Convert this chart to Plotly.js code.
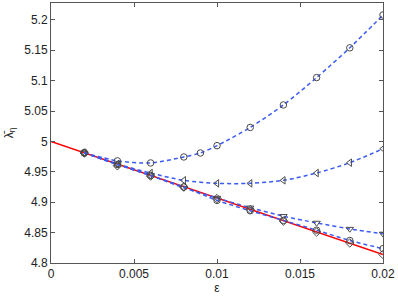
<!DOCTYPE html>
<html>
<head>
<meta charset="utf-8">
<script src="https://cdn.plot.ly/plotly-3.0.1.min.js"></script>
<style>html,body{margin:0;padding:0;background:#fff;}#chart{width:398px;height:298px;}</style>
</head>
<body>
<div id="chart"></div>
<script>
// Data
const epsAll = [0.002, 0.004, 0.006, 0.008, 0.010, 0.012, 0.014, 0.016, 0.018, 0.020];
const epsUpper = [0.002, 0.004, 0.006, 0.008, 0.009, 0.010, 0.012, 0.014, 0.016, 0.018, 0.020];
const lambdaCircleUpper = [4.9815, 4.968, 4.9646, 4.9744, 4.981, 4.993, 5.023, 5.060, 5.105, 5.154, 5.208];
const lambdaTriLeft = [4.9815, 4.963, 4.948, 4.936, 4.931, 4.931, 4.936, 4.948, 4.965, 4.988];
const lambdaTriDown = [4.981, 4.962, 4.944, 4.9236, 4.907, 4.891, 4.877, 4.866, 4.856, 4.848];
const lambdaCircleLower = [4.981, 4.962, 4.944, 4.925, 4.903, 4.886, 4.870, 4.854, 4.837, 4.8236];
const lambdaDiamond = [4.981, 4.960, 4.943, 4.925, 4.906, 4.888, 4.869, 4.851, 4.833, 4.814];
const epsExact = [0, 0.02];
const lambdaExact = [5.0, 4.814];
const xTicks = [0, 0.005, 0.01, 0.015, 0.02];
const xTickText = ['0', '0.005', '0.01', '0.015', '0.02'];
const yTicks = [4.8, 4.85, 4.9, 4.95, 5, 5.05, 5.1, 5.15, 5.2];
const yTickText = ['4.8', '4.85', '4.9', '4.95', '5', '5.05', '5.1', '5.15', '5.2'];

const blue = '#3b5bf6';
const mk = '#4a4a4a';
function dashed(x, y, sym) {
  return {x: x, y: y, type: 'scatter', mode: 'lines+markers',
    line: {color: blue, dash: '4px,3px', width: 1.5, shape: 'spline', smoothing: 0.8},
    marker: {symbol: sym, size: 6.5, color: mk, line: {color: mk, width: 1}},
    showlegend: false, hoverinfo: 'skip'};
}
const traces = [
  {x: epsExact, y: lambdaExact, type: 'scatter', mode: 'lines', line: {color: '#ff0000', width: 1.5}, showlegend: false},
  dashed(epsUpper, lambdaCircleUpper, 'circle-open'),
  dashed(epsAll, lambdaTriLeft, 'triangle-left-open'),
  dashed(epsAll, lambdaTriDown, 'triangle-down-open'),
  dashed(epsAll, lambdaCircleLower, 'circle-open'),
  {x: epsAll, y: lambdaDiamond, type: 'scatter', mode: 'markers',
   marker: {symbol: 'diamond-open', size: 6.5, color: mk, line: {color: mk, width: 1}}, showlegend: false}
];
const axisCommon = {
  showgrid: false, zeroline: false, showline: true, linecolor: '#555', linewidth: 1,
  mirror: 'ticks', ticks: 'inside', ticklen: 4, tickcolor: '#555',
  tickfont: {family: 'Liberation Sans, Arial, sans-serif', size: 12, color: '#222'}
};
const layout = {
  width: 398, height: 298,
  margin: {l: 51, r: 15, t: 3, b: 35},
  paper_bgcolor: '#fff', plot_bgcolor: '#fff',
  xaxis: Object.assign({}, axisCommon, {
    range: [0, 0.02], tickvals: xTicks, ticktext: xTickText,
    title: {text: 'ε', font: {family: 'Liberation Sans, Arial, sans-serif', size: 12, color: '#222'}, standoff: 1}
  }),
  yaxis: Object.assign({}, axisCommon, {
    range: [4.8, 5.2277], tickvals: yTicks, ticktext: yTickText,
    title: {text: 'λ\u0304<sub>η</sub>', font: {family: 'Liberation Sans, Arial, sans-serif', size: 12, color: '#222'}, standoff: 8}
  })
};
Plotly.newPlot('chart', traces, layout, {staticPlot: true, displayModeBar: false});
</script>
</body>
</html>
